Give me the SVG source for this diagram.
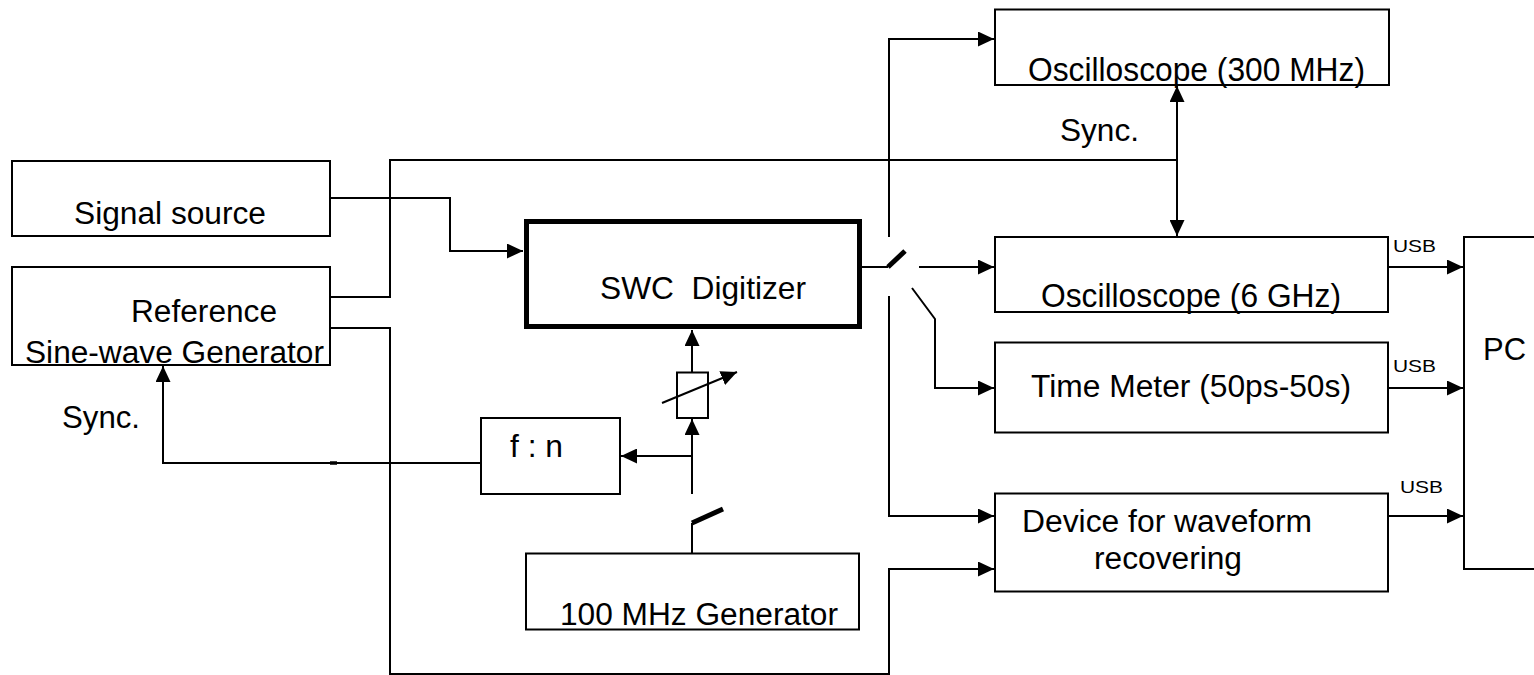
<svg xmlns="http://www.w3.org/2000/svg" width="1534" height="675" viewBox="0 0 1534 675">
<style>
.box{fill:#fff;stroke:#000;stroke-width:2}
.thick{fill:#fff;stroke:#000;stroke-width:5}
.ln{fill:none;stroke:#000;stroke-width:2}
.blade{fill:none;stroke:#000;stroke-width:5}
.t{font-family:"Liberation Sans",Arial,sans-serif;font-size:31px;fill:#000}
.u{font-family:"Liberation Sans",Arial,sans-serif;font-size:17px;fill:#000}
</style>
<defs>
<marker id="ah" viewBox="0 0 16 15" refX="16" refY="7.5" markerWidth="16" markerHeight="15" markerUnits="userSpaceOnUse" orient="auto">
<path d="M0,0 L16,7.5 L0,15 Z" fill="#000"/>
</marker>
</defs>
<rect width="1534" height="675" fill="#fff"/>
<g id="connectors">
<path class="ln" d="M330,198 H450 V251 H523" marker-end="url(#ah)"/>
<path class="ln" d="M330,297 H390 V160 H1177"/>
<path class="ln" d="M1177,161 V86" marker-end="url(#ah)"/>
<path class="ln" d="M1177,161 V236" marker-end="url(#ah)"/>
<path class="ln" d="M330,328 H390 V674 H889 V569 H994" marker-end="url(#ah)"/>
<path class="ln" d="M481,463 H163 V366" marker-end="url(#ah)"/>
<path class="ln" style="stroke-width:3.5" d="M330,463 H337"/>
<path class="ln" d="M692,553 V523"/>
<path class="blade" d="M692,523 L723,509"/>
<path class="ln" d="M692,494 V419" marker-end="url(#ah)"/>
<path class="ln" d="M692,456 H621" marker-end="url(#ah)"/>
<path class="ln" d="M692,372 V330" marker-end="url(#ah)"/>
<path class="ln" d="M662,403 L737,372" marker-end="url(#ah)"/>
<path class="ln" d="M862,267 H888"/>
<path class="blade" d="M888,267 L905,251"/>
<path class="ln" d="M919,267 H994" marker-end="url(#ah)"/>
<path class="ln" d="M889,237 V39 H994" marker-end="url(#ah)"/>
<path class="ln" d="M889,296 V516 H994" marker-end="url(#ah)"/>
<path class="ln" d="M912,288 L935,319 V388 H994" marker-end="url(#ah)"/>
<path class="ln" d="M1388,267 H1463" marker-end="url(#ah)"/>
<path class="ln" d="M1388,388 H1463" marker-end="url(#ah)"/>
<path class="ln" d="M1388,516 H1463" marker-end="url(#ah)"/>
</g>
<g id="resistor"><rect x="677" y="372.5" width="31" height="45.5" fill="none" stroke="#000" stroke-width="2"/></g>
<g id="signal-source">
<rect class="box" x="12" y="161" width="318" height="75"/>
<text class="t" x="74" y="224" textLength="192" lengthAdjust="spacingAndGlyphs">Signal source</text>
</g>
<g id="reference">
<rect class="box" x="12" y="267" width="318" height="98"/>
<text class="t" x="131" y="322" textLength="146" lengthAdjust="spacingAndGlyphs">Reference</text>
<text class="t" x="25" y="363" textLength="299" lengthAdjust="spacingAndGlyphs">Sine-wave Generator</text>
</g>
<g id="sync-left"><text class="t" x="62" y="428" textLength="78" lengthAdjust="spacingAndGlyphs">Sync.</text></g>
<g id="swc">
<rect class="thick" x="526.5" y="221.5" width="333" height="105"/>
<text class="t" x="600" y="299" textLength="206" lengthAdjust="spacingAndGlyphs" style="font-size:32px;white-space:pre">SWC  Digitizer</text>
</g>
<g id="fn">
<rect class="box" x="481" y="418" width="139" height="76"/>
<text class="t" x="510" y="457" textLength="53" lengthAdjust="spacingAndGlyphs">f : n</text>
</g>
<g id="gen100">
<rect class="box" x="526" y="553.5" width="333" height="76"/>
<text class="t" x="560" y="625" textLength="278" lengthAdjust="spacingAndGlyphs">100 MHz Generator</text>
</g>
<g id="osc300">
<rect class="box" x="995" y="9.5" width="394" height="75.5"/>
<text class="t" x="1028" y="81" textLength="337" lengthAdjust="spacingAndGlyphs" style="font-size:33px">Oscilloscope (300 MHz)</text>
</g>
<g id="sync-right"><text class="t" x="1060" y="141" textLength="79" lengthAdjust="spacingAndGlyphs" style="font-size:32px">Sync.</text></g>
<g id="osc6">
<rect class="box" x="995" y="237" width="393" height="75"/>
<text class="t" x="1041" y="307" textLength="300" lengthAdjust="spacingAndGlyphs" style="font-size:33px">Oscilloscope (6 GHz)</text>
</g>
<g id="timemeter">
<rect class="box" x="995" y="342.5" width="393" height="90"/>
<text class="t" x="1031" y="397" textLength="320" lengthAdjust="spacingAndGlyphs">Time Meter (50ps-50s)</text>
</g>
<g id="device">
<rect class="box" x="995" y="493.5" width="393" height="98"/>
<text class="t" x="1022" y="532" textLength="290" lengthAdjust="spacingAndGlyphs">Device for waveform</text>
<text class="t" x="1094" y="569" textLength="148" lengthAdjust="spacingAndGlyphs">recovering</text>
</g>
<g id="pc">
<rect class="box" x="1464" y="237" width="90" height="332"/>
<text class="t" x="1483" y="360" textLength="43" lengthAdjust="spacingAndGlyphs">PC</text>
</g>
<g id="usb-labels">
<text class="u" x="1393" y="252" textLength="43" lengthAdjust="spacingAndGlyphs">USB</text>
<text class="u" x="1393" y="372" textLength="43" lengthAdjust="spacingAndGlyphs">USB</text>
<text class="u" x="1400" y="493" textLength="43" lengthAdjust="spacingAndGlyphs">USB</text>
</g>
</svg>
